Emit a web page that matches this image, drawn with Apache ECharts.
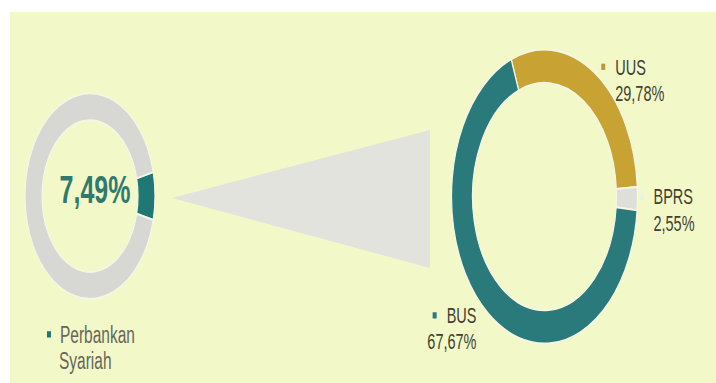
<!DOCTYPE html>
<html><head><meta charset="utf-8">
<script src="https://cdn.jsdelivr.net/npm/echarts@6/dist/echarts.min.js"></script>
<style>
html,body{margin:0;padding:0;width:716px;height:383px;overflow:hidden;background:#ffffff;}
#main{position:absolute;left:10px;top:12px;width:706px;height:235px;transform:scale(1,1.58);transform-origin:0 0;}
</style></head><body><div id="main"></div>
<script>
// ---- data ----
const shareNames = ['Perbankan Syariah', 'Lainnya'];
const shareValues = [7.49, 92.51];
const segmentNames = ['UUS', 'BPRS', 'BUS'];
const segmentValues = [29.78, 2.55, 67.67];

// ---- styles ----
const shareColors = ['#1f7873', '#d7d7d4'];
const segmentColors = ['#c8a232', '#dfdfda', '#2a7a7c'];
const markerColors = ['#b99b3c', '#eeeeea', '#2a7a7c'];
const labelNudge = [[0, 7], [-6, 7], [-5, 7]];
const FONT = '"Liberation Sans", Arial, sans-serif';
const fmtPct = v => v.toFixed(2).replace('.', ',') + '%';

const chart = echarts.init(document.getElementById('main'), null, {renderer: 'svg'});

const labelRich = {
  g: {width: 10},
  g2: {width: 14},
  n: {fontSize: 14.5, color: '#3f3f33', lineHeight: 16.5, fontFamily: FONT},
  v: {fontSize: 14.5, color: '#3f3f33', lineHeight: 16.5, fontFamily: FONT}
};
segmentNames.forEach((n, i) => {
  labelRich['m' + i] = {width: 4, height: 4, backgroundColor: markerColors[i]};
});

const option = {
  animation: false,
  backgroundColor: '#f3f8c9',
  legend: {
    data: [shareNames[0]],
    left: 32, top: 196, padding: 0,
    icon: 'none', itemWidth: 0, itemHeight: 10,
    selectedMode: false,
    formatter: name => {
      const parts = name.split(' ');
      return '{m|}{g|}{t|' + parts[0] + '}\n{g2|}{t|' + parts.slice(1).join(' ') + '}';
    },
    textStyle: {
      rich: {
        m: {width: 4, height: 4, backgroundColor: shareColors[0]},
        g: {width: 9},
        g2: {width: 12},
        t: {fontSize: 15.5, color: '#66665a', lineHeight: 16, fontFamily: FONT}
      }
    }
  },
  graphic: [{
    type: 'polygon',
    shape: {points: [[162, 117.7], [420, 74.7], [420, 162]]},
    style: {fill: '#e2e3dd'},
    silent: true
  }],
  series: [
    {
      type: 'pie',
      center: [80, 116.5],
      radius: [48, 65],
      startAngle: 13.48,
      clockwise: true,
      silent: true,
      emphasis: {disabled: true},
      itemStyle: {borderColor: '#f4f7e4', borderWidth: 1.2},
      label: {show: false},
      labelLine: {show: false},
      labelLayout: p => (p.dataIndex === 0 ? {dx: 5, dy: -4} : {}),
      data: shareNames.map((n, i) => ({
        name: n, value: shareValues[i],
        itemStyle: {color: shareColors[i]},
        label: i === 0 ? {
          show: true, position: 'center',
          formatter: p => fmtPct(p.value),
          fontSize: 25, fontWeight: 'bold', color: '#2e7a70', fontFamily: FONT
        } : {show: false}
      }))
    },
    {
      type: 'pie',
      center: [534.5, 116.8],
      radius: [72, 93],
      startAngle: 111,
      clockwise: true,
      silent: true,
      avoidLabelOverlap: false,
      emphasis: {disabled: true},
      itemStyle: {borderColor: '#f4f7e4', borderWidth: 1.2},
      label: {
        show: true, position: 'outside',
        formatter: p => '{m' + p.dataIndex + '|}{g|}{n|' + p.name + '}\n{g2|}{v|' + fmtPct(p.value) + '}',
        rich: labelRich
      },
      labelLine: {show: false, length: 3, length2: 0},
      labelLayout: p => ({dx: labelNudge[p.dataIndex][0], dy: labelNudge[p.dataIndex][1]}),
      data: segmentNames.map((n, i) => ({
        name: n, value: segmentValues[i], itemStyle: {color: segmentColors[i]}
      }))
    }
  ]
};
chart.setOption(option);
</script></body></html>
